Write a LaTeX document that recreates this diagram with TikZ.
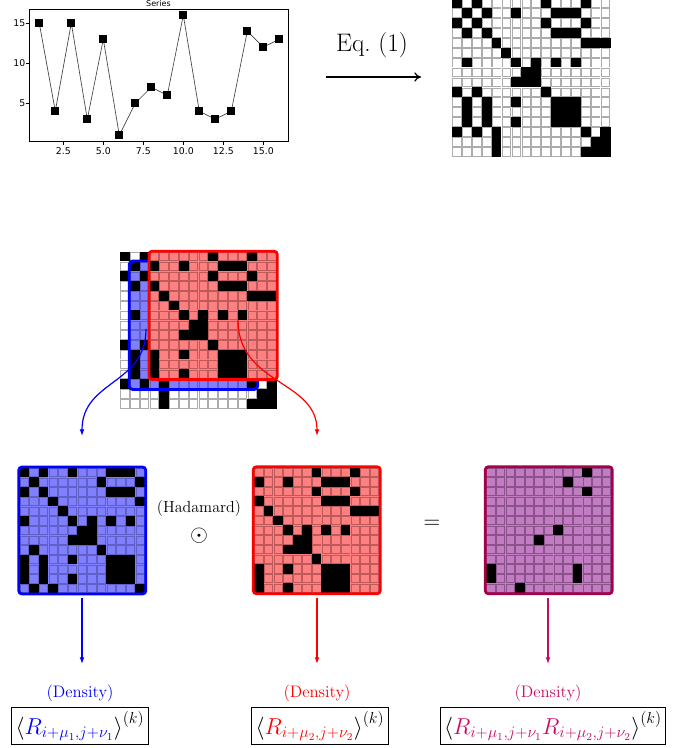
\documentclass[tikz,border=0pt]{standalone}
\usepackage{fontspec}
\newfontfamily\mplfont{DejaVu Sans}
\usetikzlibrary{arrows.meta}

\definecolor{cellgray}{RGB}{172,172,172}
\definecolor{tintblue}{RGB}{128,128,255}
\definecolor{lineblue}{RGB}{96,96,200}
\definecolor{tintred}{RGB}{255,128,128}
\definecolor{linered}{RGB}{190,90,90}
\definecolor{tintpurple}{RGB}{194,124,194}
\definecolor{linepurple}{RGB}{140,82,140}
\definecolor{edgepurple}{RGB}{165,0,72}
\definecolor{crimson}{RGB}{200,10,100}

% the series and its recurrence matrix R_ij = [ |x_i - x_j| <= 1 ]
\def\vals{{15,4,15,3,13,1,5,7,6,16,4,3,4,14,12,13}}
\newcommand\recval[3]{%
  \edef\ria{\the\numexpr#1-1\relax}\edef\rib{\the\numexpr#2-1\relax}%
  \pgfmathtruncatemacro#3{abs(\vals[\ria]-\vals[\rib])<=1}}

% one cell: x, y, size, on/off, fill, edge
\newcommand\rpcell[6]{%
  \ifnum#4=1
    \fill[black] ({#1-0.1},{#2-0.1}) rectangle ({#1+#3+0.1},{#2+#3+0.1});
  \else
    \fill[#5] ({#1-0.1},{#2-0.1}) rectangle ({#1+#3+0.1},{#2+#3+0.1});
    \draw[#6,line width=0.6pt]
      ({#1+0.6},{#2+0.6}) rectangle ({#1+#3-0.6},{#2+#3-0.6});
  \fi}

% n x n block of R starting at row/col offset: x0, y0, cell, n, roff, coff, fill, edge
\newcommand\rpgrid[8]{%
  \foreach \i in {1,...,#4}{\foreach \j in {1,...,#4}{%
    \recval{\i+#5}{\j+#6}{\rpon}%
    \rpcell{#1+(\j-1)*#3}{#2+(\i-1)*#3}{#3}{\rpon}{#7}{#8}%
  }}}

% Hadamard product of the two shifted blocks
\newcommand\rpprod[4]{%
  \foreach \i in {1,...,#4}{\foreach \j in {1,...,#4}{%
    \recval{\i+1}{\j+1}{\rpa}\recval{\i}{\j+3}{\rpb}%
    \pgfmathtruncatemacro\rpon{\rpa*\rpb}%
    \rpcell{#1+(\j-1)*#3}{#2+(\i-1)*#3}{#3}{\rpon}{tintpurple}{linepurple}%
  }}}

\begin{document}
\begin{tikzpicture}[x=0.75pt,y=-0.75pt,
  ticklbl/.style={inner sep=0pt,font=\mplfont\fontsize{7}{8}\selectfont},
  density/.style={inner sep=0pt,font=\fontsize{12.5}{15}\selectfont},
  mathbox/.style={draw=black,line width=0.6pt,inner sep=3pt,fill=white,
    font=\fontsize{17}{20}\selectfont},
  frame/.style={line width=2.1pt,rounded corners=2.5pt},
  flow/.style={line width=0.9pt,-{Latex[length=5pt,width=3.6pt]}}]
\useasboundingbox (0,0) rectangle (677,748);

% ---- time series plot ----
\draw[line width=0.5pt] (29,9) rectangle (288.3,141.7);
\node[inner sep=0pt,font=\mplfont\fontsize{6}{7}\selectfont] (title) at (158.5,3.5) {Series};
\foreach \v in {5,10,15}{
  \draw[line width=0.5pt] (29,{143.2-8*\v}) -- (26,{143.2-8*\v});
  \node[ticklbl,anchor=east] (yt\v) at (25.5,{143.2-8*\v}) {\v};
}
\foreach \t/\s in {2.5/2.5,5/5.0,7.5/7.5,10/10.0,12.5/12.5,15/15.0}{
  \draw[line width=0.5pt] ({23.3+16*\t},141.7) -- ({23.3+16*\t},144.7);
  \node[ticklbl,anchor=north] (xt\t) at ({23.3+16*\t},147.5) {\s};
}
\draw[line width=0.5pt,black!75] plot coordinates {
  (39.3,23.2) (55.3,111.2) (71.3,23.2) (87.3,119.2) (103.3,39.2) (119.3,135.2)
  (135.3,103.2) (151.3,87.2) (167.3,95.2) (183.3,15.2) (199.3,111.2) (215.3,119.2)
  (231.3,111.2) (247.3,31.2) (263.3,47.2) (279.3,39.2)};
\foreach \t in {1,...,16}{
  \pgfmathsetmacro\yy{143.2-8*\vals[\t-1]}
  \fill[black] ({23.3+16*\t-4},{\yy-4}) rectangle ++(8,8);
}

% ---- arrow to the recurrence matrix ----
\node[inner sep=0pt,font=\fontsize{19}{22}\selectfont] (eqlabel) at (372,45) {Eq.~(1)};
\coordinate (eqfrom) at (326,77);
\coordinate (eqto) at (421,77);
\draw[line width=0.9pt,-{To[length=5pt,width=7pt]}] (eqfrom) -- (eqto);

% ---- recurrence matrix ----
\rpgrid{452}{-1.7}{9.9}{16}{0}{0}{white}{cellgray}

% ---- matrix with the two shifted windows ----
\rpgrid{120}{251.7}{9.8}{16}{0}{0}{white}{cellgray}
\rpgrid{129.8}{261.5}{9.8}{13}{1}{1}{tintblue}{lineblue}
\draw[frame,blue] (129.3,261.0) rectangle (257.7,389.4);
\rpgrid{149.4}{251.7}{9.8}{13}{0}{3}{tintred}{linered}
\draw[frame,red] (148.9,251.2) rectangle (277.3,379.6);

\coordinate (bluesrc) at (146,329);
\coordinate (bluedst) at (82,436);
\coordinate (redsrc) at (238,320);
\coordinate (reddst) at (317,436);
\draw[flow,blue] (bluesrc) .. controls (146,385) and (82,380) .. (bluedst);
\draw[flow,red] (redsrc) .. controls (238,385) and (317,380) .. (reddst);

% ---- the three panels ----
\rpgrid{19.5}{467.8}{9.65}{13}{1}{1}{tintblue}{lineblue}
\draw[frame,blue] (18.7,467.0) rectangle (145.8,594.0);

\rpgrid{254}{467.5}{9.65}{13}{0}{3}{tintred}{linered}
\draw[frame,red] (253.2,466.7) rectangle (380.3,593.8);

\rpprod{486}{467.5}{9.65}{13}
\draw[frame,edgepurple] (485.2,466.7) rectangle (612.3,593.8);

\node[inner sep=0pt,font=\fontsize{12}{14}\selectfont] (hadamard) at (199,509) {(Hadamard)};
\node[inner sep=0pt,font=\fontsize{19}{22}\selectfont] (odot) at (199,536) {$\odot$};
\node[inner sep=0pt,font=\fontsize{17}{20}\selectfont] (equals) at (432,524) {$=$};

% ---- densities ----
\node[density,text=blue] (dens1) at (80,693) {(Density)};
\node[density,text=red] (dens2) at (317,693) {(Density)};
\node[density,text=crimson] (dens3) at (548,693) {(Density)};

\node[mathbox] (box1) at (80,726)
  {$\left\langle \textcolor{blue}{R_{i+\mu_1,j+\nu_1}}\right\rangle^{(k)}$};
\node[mathbox] (box2) at (320,726)
  {$\left\langle \textcolor{red}{R_{i+\mu_2,j+\nu_2}}\right\rangle^{(k)}$};
\node[mathbox] (box3) at (553,726)
  {$\left\langle \textcolor{crimson}{R_{i+\mu_1,j+\nu_1}R_{i+\mu_2,j+\nu_2}}\right\rangle^{(k)}$};

\coordinate (b1top) at (82,598);  \coordinate (b1end) at (82,664);
\coordinate (b2top) at (317,598); \coordinate (b2end) at (317,664);
\coordinate (b3top) at (548,598); \coordinate (b3end) at (548,664);
\draw[flow,blue] (b1top) -- (b1end);
\draw[flow,red] (b2top) -- (b2end);
\draw[flow,crimson] (b3top) -- (b3end);
\end{tikzpicture}
\end{document}
